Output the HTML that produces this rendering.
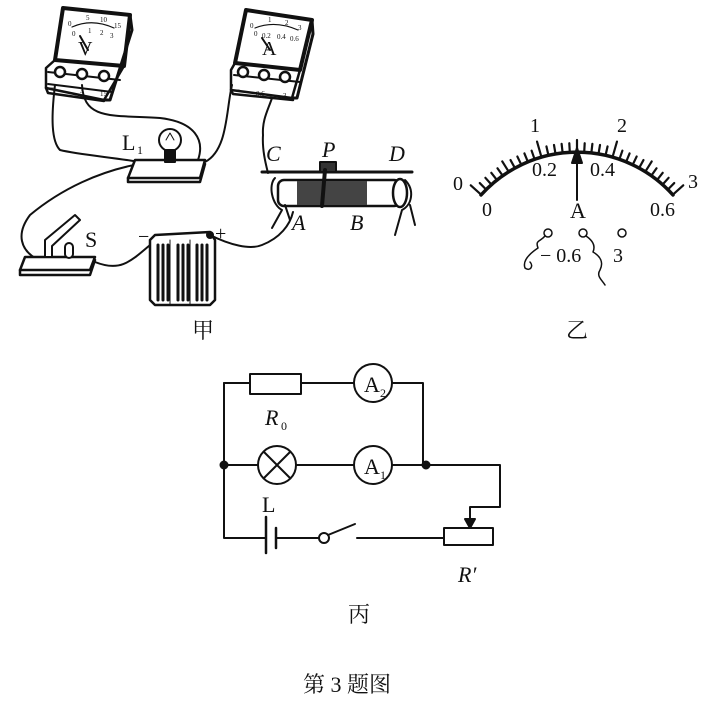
<!DOCTYPE html>
<html><head><meta charset="utf-8"><style>
html,body{margin:0;padding:0;background:#fff;}
svg{display:block}
text{font-family:"Liberation Serif","Noto Serif CJK SC",serif;fill:#111}
</style></head><body>
<svg id="s" width="713" height="713" viewBox="0 0 713 713" xmlns="http://www.w3.org/2000/svg">
<g stroke="#111" fill="none" stroke-width="2" stroke-linejoin="round" stroke-linecap="round">
<!-- Voltmeter -->
<path d="M63,8 L130,15 L124,66 L55,60 Z" stroke-width="4" fill="#fff"/>
<path d="M130,15 L132,30 L110,100 L104,100" stroke-width="3"/>
<path d="M55,60 L46,68 L46,88 L104,100 L124,66" stroke-width="2.5"/>
<path d="M46,88 L48,93 L104,101" stroke-width="2.5"/>
<path d="M48,72 L120,80"/>
<path d="M48,84 L112,92"/>
<path d="M72,27 Q92,18 114,28" stroke-width="1.2"/>
<path d="M80,36 L88,50" stroke-width="2"/>
<circle cx="60" cy="72" r="5" fill="#fff" stroke-width="2.5"/><circle cx="82" cy="74" r="5" fill="#fff" stroke-width="2.5"/><circle cx="104" cy="76" r="5" fill="#fff" stroke-width="2.5"/>
<!-- Ammeter -->
<path d="M246,10 L312,20 L300,70 L235,63 Z" stroke-width="4" fill="#fff"/>
<path d="M312,20 L313,34 L297,98 L292,98" stroke-width="3"/>
<path d="M235,63 L231,70 L231,90 L292,98 L300,70" stroke-width="2.5"/>
<path d="M231,90 L233,94 L293,100" stroke-width="2.5"/>
<path d="M234,75 L300,82"/>
<path d="M255,28 Q275,20 298,30" stroke-width="1.2"/>
<path d="M262,38 L270,50" stroke-width="2"/>
<circle cx="243" cy="72" r="5" fill="#fff" stroke-width="2.5"/><circle cx="264" cy="75" r="5" fill="#fff" stroke-width="2.5"/><circle cx="285" cy="77" r="5" fill="#fff" stroke-width="2.5"/>
<!-- wires 甲 -->
<path d="M55,85 C52,110 50,140 60,150 C80,155 120,158 145,163"/>
<path d="M82,85 C84,120 110,115 160,118 C195,122 205,140 198,160"/>
<path d="M232,85 C226,110 228,150 205,162"/>
<path d="M272,98 C268,110 262,120 263,135 C262,150 266,165 268,173"/>
<path d="M145,163 C100,170 60,190 30,215 C15,235 22,250 35,258"/>
<path d="M95,262 C120,272 130,262 150,245"/>
<path d="M210,235 C230,245 250,250 262,245 C280,238 290,225 293,212"/>
<!-- lamp board -->
<path d="M135,160 L205,160 L200,178 L128,178 Z" fill="#fff" stroke-width="2.5"/>
<path d="M128,178 L128,182 L200,182 L205,164" stroke-width="2.5"/>
<circle cx="170" cy="140" r="11" fill="#fff"/>
<rect x="165" y="150" width="10" height="12" fill="#111"/>
<path d="M166,140 L170,133 L174,140" stroke-width="1"/>
<!-- rheostat -->
<path d="M262,172 L412,172" stroke-width="3"/>
<rect x="278" y="180" width="122" height="26" rx="6" fill="#fff" stroke-width="2.5"/>
<rect x="297" y="181" width="70" height="24" fill="#444" stroke="none"/>
<rect x="320" y="162" width="16" height="10" fill="#333"/>
<path d="M325,170 L322,206" stroke-width="4"/>
<ellipse cx="400" cy="193" rx="7" ry="14" fill="#fff" stroke-width="2.5"/>
<path d="M275,178 C268,185 272,205 282,210 L272,228 M285,205 L290,220" />
<path d="M405,180 C415,190 412,205 402,210 L395,235 M410,205 L415,225"/>
<!-- switch -->
<path d="M25,257 L95,257 L90,270 L20,270 Z" fill="#fff" stroke-width="2.5"/>
<path d="M20,270 L20,275 L90,275 L95,260" stroke-width="2.5"/>
<path d="M45,256 L45,240 L75,215 L80,220 L52,246 L52,256" fill="#fff"/>
<rect x="65" y="243" width="8" height="15" rx="4" fill="#fff"/>
<!-- battery -->
<path d="M155,235 L210,232 L215,240 L215,300 L210,305 L155,305 L150,300 L150,240 Z" fill="#fff" stroke-width="2.5"/>
<path d="M158,245 L158,300 M163,245 L163,300 M168,245 L168,300 M178,245 L178,300 M183,245 L183,300 M188,245 L188,300 M197,245 L197,300 M202,245 L202,300 M207,245 L207,300" stroke-width="3"/>
<path d="M170,240 L170,305 M190,240 L190,305" stroke-width="1"/>
<circle cx="210" cy="235" r="3" fill="#111"/>
<!-- 乙 meter -->
<path id="arc" d="M481,195 A129,129 0 0 1 673,195" stroke-width="3.5"/>
<g id="ticks" stroke-width="2.2"></g>
<path d="M577,200 L577,160"/>
<path d="M572,163 L577,148 L582,163 Z" fill="#111"/>
<circle cx="548" cy="233" r="4" fill="#fff" stroke-width="1.5"/>
<circle cx="583" cy="233" r="4" fill="#fff" stroke-width="1.5"/>
<circle cx="622" cy="233" r="4" fill="#fff" stroke-width="1.5"/>
<path d="M545,236 C540,242 535,240 538,248 C532,252 522,260 525,268 C530,272 534,266 530,262" stroke-width="1.5"/>
<path d="M586,236 C592,240 596,245 593,252 C600,256 604,262 600,270 C596,276 602,280 605,285" stroke-width="1.5"/>
<!-- 丙 circuit -->
<path d="M224,383 L250,383 M301,383 L354,383 M392,383 L423,383 L423,465"/>
<rect x="250" y="374" width="51" height="20" fill="#fff"/>
<circle cx="373" cy="383" r="19" fill="#fff"/>
<path d="M224,383 L224,538 L266,538 M276,538 L319,538"/>
<path d="M224,465 L258,465 M296,465 L354,465 M392,465 L500,465 L500,507 L470,507 L470,520"/>
<path d="M465,519 L470,528 L475,519 Z" fill="#111"/>
<circle cx="277" cy="465" r="19" fill="#fff"/>
<path d="M264,452 L290,478 M290,452 L264,478"/>
<circle cx="373" cy="465" r="19" fill="#fff"/>
<circle cx="224" cy="465" r="3.5" fill="#111"/>
<circle cx="426" cy="465" r="3.5" fill="#111"/>
<path d="M266,517 L266,553 M276,528 L276,548" stroke-width="2.5"/>
<circle cx="324" cy="538" r="5" fill="#fff"/>
<path d="M328,535 L355,524"/>
<path d="M357,538 L444,538"/>
<rect x="444" y="528" width="49" height="17" fill="#fff"/>
</g>
<g font-size="7">
<text x="68" y="26">0</text><text x="86" y="20">5</text><text x="100" y="22">10</text><text x="114" y="28">15</text>
<text x="72" y="36">0</text><text x="88" y="33">1</text><text x="100" y="35">2</text><text x="110" y="38">3</text>
<text x="250" y="28">0</text><text x="268" y="22">1</text><text x="285" y="25">2</text><text x="298" y="30">3</text>
<text x="254" y="36">0</text><text x="262" y="38">0.2</text><text x="277" y="39">0.4</text><text x="290" y="41">0.6</text>
<text x="50" y="90">−</text><text x="80" y="93">3</text><text x="100" y="96">15</text>
<text x="236" y="92">−</text><text x="256" y="96">0.6</text><text x="283" y="98">3</text>
</g>
<text x="78" y="55" font-size="20">V</text>
<text x="262" y="55" font-size="20">A</text>
<text x="122" y="150" font-size="22">L</text><text x="137" y="154" font-size="12">1</text>
<g font-style="italic" font-size="22">
<text x="266" y="161">C</text><text x="322" y="157">P</text><text x="389" y="161">D</text>
<text x="292" y="230">A</text><text x="350" y="230">B</text>
<text x="85" y="247" font-style="normal">S</text>
</g>
<text x="138" y="243" font-size="20">−</text>
<text x="215" y="240" font-size="20">+</text>
<text x="192" y="338" font-size="22">甲</text>
<text x="566" y="338" font-size="22">乙</text>
<g font-size="20">
<text x="453" y="190">0</text><text x="530" y="132">1</text><text x="617" y="132">2</text><text x="688" y="188">3</text>
<text x="482" y="216">0</text><text x="532" y="176">0.2</text><text x="590" y="176">0.4</text><text x="650" y="216">0.6</text>
<text x="570" y="218" font-size="22">A</text>
<text x="540" y="262">− 0.6</text><text x="613" y="262">3</text>
</g>
<g font-size="22">
<text x="364" y="392">A</text><text x="380" y="397" font-size="12">2</text>
<text x="364" y="474">A</text><text x="380" y="479" font-size="12">1</text>
<text x="265" y="425" font-style="italic">R</text><text x="281" y="430" font-size="12">0</text>
<text x="262" y="512">L</text>
<text x="458" y="582" font-style="italic">R′</text>
<text x="348" y="622">丙</text>
</g>
<text x="303" y="692" font-size="22">第 3 题图</text>
</svg>
<script>
var g=document.getElementById('ticks'),cx=577,cy=281,R=129;
for(var i=0;i<=30;i++){var a=(-48+i*3.2)*Math.PI/180;var L=(i%10==0)?16:(i%5==0?12:9);
if(i==0||i==30)L=14;
var l=document.createElementNS('http://www.w3.org/2000/svg','line');
l.setAttribute('x1',cx+R*Math.sin(a));l.setAttribute('y1',cy-R*Math.cos(a));
l.setAttribute('x2',cx+(R+L)*Math.sin(a));l.setAttribute('y2',cy-(R+L)*Math.cos(a));g.appendChild(l);}
</script>
</body></html>
